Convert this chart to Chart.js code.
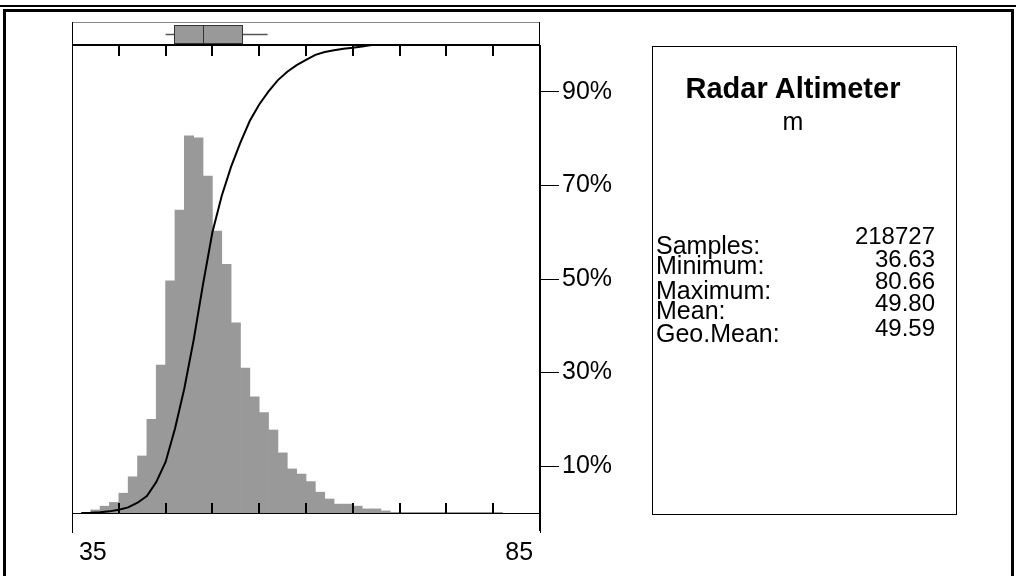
<!DOCTYPE html>
<html>
<head>
<meta charset="utf-8">
<title>Radar Altimeter</title>
<script src="https://cdn.jsdelivr.net/npm/chart.js@4.4.1/dist/chart.umd.min.js"></script>
<style>
  html, body { margin: 0; padding: 0; background: #fff; }
  #wrap { position: relative; width: 1016px; height: 576px; overflow: hidden; }
  #wrap canvas { position: absolute; left: 0; top: 0; }
  #stats {
    position: absolute; left: 652px; top: 46px; width: 305px; height: 469px;
    border: 1px solid #000; box-sizing: border-box;
    font-family: "Liberation Sans", Arial, sans-serif; color: #000;
  }
  #stats div { position: absolute; white-space: nowrap; }
  .lab { left: 3px; font-size: 25px; line-height: 25px; }
  .val { right: 21px; font-size: 24px; line-height: 24px; text-align: right; }
</style>
</head>
<body>
<div id="wrap">
  <canvas id="hist" width="1016" height="576"></canvas>
  <div id="stats">
    <div id="ttl" style="left:0;width:280px;top:27px;text-align:center;font-weight:bold;font-size:29px;line-height:29px;"></div>
    <div id="unit" style="left:0;width:280px;top:62px;text-align:center;font-size:25px;line-height:25px;"></div>
  </div>
</div>
<script>
/* eslint-disable */

// histogram bins (1 m wide, left edge) and share of samples in %
const binStarts = [36, 37, 38, 39, 40, 41, 42, 43, 44, 45, 46, 47, 48, 49, 50,
  51, 52, 53, 54, 55, 56, 57, 58, 59, 60, 61, 62, 63, 64, 65, 66, 67, 68, 69, 70,
  71, 72, 73, 74, 75, 76, 77, 78, 79, 80];
const binPercent = [0.02, 0.09, 0.20, 0.31, 0.58, 1.06, 1.67, 2.74, 4.33, 6.80,
  8.87, 11.04, 10.98, 9.86, 8.25, 7.28, 5.57, 4.24, 3.40, 2.94, 2.43, 1.76, 1.29,
  1.14, 0.92, 0.61, 0.41, 0.26, 0.26, 0.20, 0.12, 0.12, 0.06, 0.02, 0.02, 0.02,
  0.02, 0.02, 0.02, 0.02, 0.02, 0.02, 0.02, 0.02, 0.02];

// cumulative curve
const cdfX = [36, 37, 38, 39, 40, 41, 42, 43, 44, 45, 46, 47, 48, 49, 50, 51, 52,
  53, 54, 55, 56, 57, 58, 59, 60, 61, 62, 63, 64, 65, 66, 67, 85];
const cdfPercent = [0, 0.05, 0.15, 0.35, 0.7, 1.2, 2.2, 3.6, 6.6, 10.9, 18.0,
  26.6, 37.0, 48.9, 60.0, 67.8, 74.0, 79.2, 83.8, 87.3, 90.1, 92.5, 94.3, 95.7,
  96.8, 97.9, 98.5, 98.9, 99.2, 99.4, 99.7, 100, 100];

// box plot: whisker low, q1, median, q3, whisker high
const boxStats = [45.0, 45.9, 49.0, 53.2, 55.9];

const xLabels = [35, 85];
const pctTicks = [10, 30, 50, 70, 90];

const statLabels = ["Samples:", "Minimum:", "Maximum:", "Mean:", "Geo.Mean:"];
const statValues = ["218727", "36.63", "80.66", "49.80", "49.59"];
const title = "Radar Altimeter";
const unit = "m";

const FONT = "'Liberation Sans', Arial, sans-serif";

// stats panel text
document.getElementById("ttl").textContent = title;
document.getElementById("unit").textContent = unit;
const labTops = [186, 206, 231, 251, 274];
const valTops = [177, 200, 222, 244, 269];
const panel = document.getElementById("stats");
statLabels.forEach((t, i) => {
  const d = document.createElement("div");
  d.className = "lab";
  d.style.top = labTops[i] + "px";
  d.textContent = t;
  panel.appendChild(d);
  const v = document.createElement("div");
  v.className = "val";
  v.style.top = valTops[i] + "px";
  v.textContent = statValues[i];
  panel.appendChild(v);
});

// frame, box plot panel, inner ticks
const decor = {
  id: "decor",
  beforeDraw(chart) {
    const c = chart.ctx;
    c.save();
    c.fillStyle = "#000";
    c.fillRect(0, 5, 1016, 2);
    c.fillRect(3, 9, 1011, 3);
    c.fillRect(3, 9, 3, 567);
    c.fillRect(1011, 9, 3, 567);
    c.restore();
  },
  afterDraw(chart) {
    const c = chart.ctx;
    const a = chart.chartArea;
    const x = chart.scales.x;
    const boxTop = 22;
    c.save();
    // box plot panel
    c.strokeStyle = "#888";
    c.lineWidth = 1;
    c.beginPath();
    c.moveTo(a.left, boxTop + 0.5);
    c.lineTo(a.right, boxTop + 0.5);
    c.stroke();
    c.strokeStyle = "#000";
    c.beginPath();
    c.moveTo(a.left + 0.5, boxTop);
    c.lineTo(a.left + 0.5, a.bottom + 18);
    c.moveTo(a.right - 0.5, boxTop);
    c.lineTo(a.right - 0.5, a.bottom + 18);
    c.stroke();
    c.lineWidth = 2;
    c.beginPath();
    c.moveTo(a.left, a.top);
    c.lineTo(a.right, a.top);
    c.stroke();
    // inner ticks at every 5 m
    x.ticks.forEach(t => {
      if (xLabels.includes(t.value)) return;
      const px = Math.round(x.getPixelForValue(t.value));
      c.beginPath();
      c.moveTo(px, a.top);
      c.lineTo(px, a.top + 11);
      c.moveTo(px, a.bottom - 10);
      c.lineTo(px, a.bottom);
      c.stroke();
    });
    // box plot
    const [wl, q1, md, q3, wh] = boxStats.map(v => x.getPixelForValue(v));
    const by0 = 25, by1 = 43, bm = 34.5;
    c.lineWidth = 1.5;
    c.strokeStyle = "#555";
    c.beginPath();
    c.moveTo(wl, bm); c.lineTo(q1, bm);
    c.moveTo(q3, bm); c.lineTo(wh, bm);
    c.stroke();
    c.fillStyle = "#999999";
    c.fillRect(q1, by0, q3 - q1, by1 - by0);
    c.lineWidth = 1;
    c.strokeStyle = "#333";
    c.strokeRect(Math.round(q1) + 0.5, by0 + 0.5, Math.round(q3 - q1), by1 - by0);
    c.beginPath();
    c.moveTo(Math.round(md) + 0.5, by0);
    c.lineTo(Math.round(md) + 0.5, by1);
    c.stroke();
    c.restore();
  }
};

new Chart(document.getElementById("hist"), {
  type: "bar",
  data: {
    datasets: [
      {
        type: "line",
        label: "cumulative",
        data: cdfX.map((v, i) => ({ x: v, y: cdfPercent[i] })),
        yAxisID: "y2",
        borderColor: "#000",
        borderWidth: 2,
        pointRadius: 0,
        tension: 0,
        fill: false,
        clip: 4,
        order: 0,
      },
      {
        label: "samples",
        data: binStarts.map((b, i) => ({ x: b + 0.5, y: binPercent[i] })),
        yAxisID: "y",
        backgroundColor: "#999999",
        borderWidth: 0,
        barPercentage: 1,
        categoryPercentage: 1,
        order: 1,
      },
    ],
  },
  options: {
    responsive: false,
    animation: false,
    events: [],
    layout: { padding: { left: 72, top: 45, right: 376, bottom: 0 } },
    plugins: { legend: { display: false }, tooltip: { enabled: false }, title: { display: false } },
    scales: {
      x: {
        type: "linear",
        min: 35,
        max: 85,
        offset: false,
        afterFit: s => { s.height = 63; },
        grid: {
          offset: false,
          drawOnChartArea: false,
          tickLength: 20,
          lineWidth: 1,
          color: ctx => (ctx.tick && xLabels.includes(ctx.tick.value) ? "#000" : "rgba(0,0,0,0)"),
        },
        border: { display: true, color: "#000", width: 1 },
        ticks: {
          stepSize: 5,
          autoSkip: false,
          maxRotation: 0,
          align: "inner",
          padding: 5,
          color: "#000",
          font: { family: FONT, size: 25 },
          callback: (v, i, ticks) => {
            if (!xLabels.includes(v)) return "";
            return i === 0 ? " " + v : v + " ";
          },
        },
      },
      y: {
        display: false,
        min: 0,
        max: 13.7,
      },
      y2: {
        type: "linear",
        position: "right",
        min: 0,
        max: 100,
        afterFit: s => { s.width = 100; },
        afterBuildTicks: s => { s.ticks = pctTicks.map(v => ({ value: v })); },
        grid: { drawOnChartArea: false, tickLength: 19, color: "#000", lineWidth: 1 },
        border: { display: true, color: "#000", width: 1 },
        ticks: {
          padding: 3,
          color: "#000",
          font: { family: FONT, size: 25 },
          callback: v => v + "%",
        },
      },
    },
  },
  plugins: [decor],
});
</script>
</body>
</html>
